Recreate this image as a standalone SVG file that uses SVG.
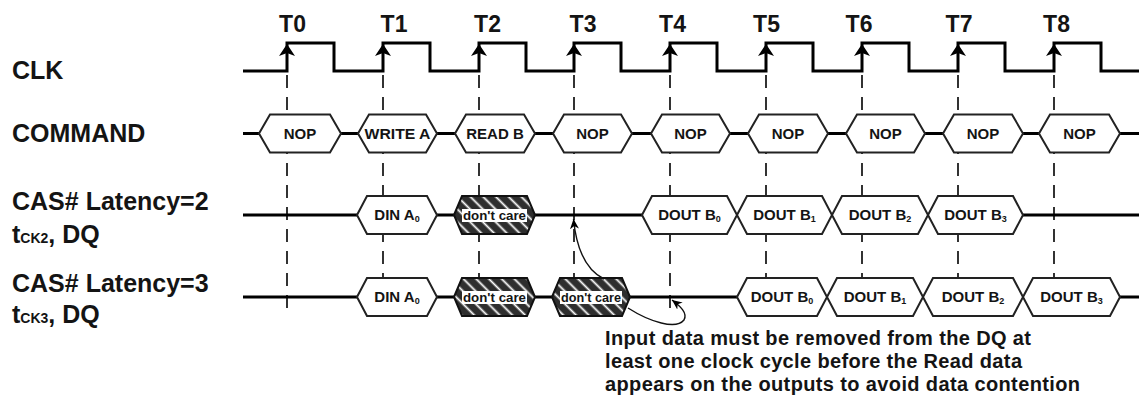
<svg xmlns="http://www.w3.org/2000/svg" width="1139" height="397" viewBox="0 0 1139 397">
<style>
text{font-family:"Liberation Sans",Arial,sans-serif;fill:#141414;font-weight:bold}
.lbl{font-size:25px}
.tl{font-size:23px;text-anchor:middle}
.ht{font-size:15px;text-anchor:middle}
.sub{font-size:9px}
.dct{font-size:13px;text-anchor:middle}
.note{font-size:20px}
.sig{fill:none;stroke:#000;stroke-width:3}
.bus{stroke:#000;stroke-width:3}
.hex{fill:#fff;stroke:#222;stroke-width:2}
.dc{fill:url(#hatch);stroke:#111;stroke-width:2}
.dcbox{fill:#fff}
.grid{stroke:#000;stroke-width:1.6;stroke-dasharray:13 9}
.arr{fill:none;stroke:#111;stroke-width:1.4;marker-end:url(#ah)}
</style>
<defs>
<pattern id="hatch" patternUnits="userSpaceOnUse" width="9" height="9" patternTransform="rotate(-45)">
<rect width="9" height="9" fill="#2e2e2e"/>
<line x1="4.5" y1="0" x2="4.5" y2="9" stroke="#fff" stroke-width="1.8"/>
</pattern>
<path id="clkArrow" d="M0,0 L8,12 L0,9 L-8,12 Z" fill="#000"/>
<marker id="ah" markerUnits="userSpaceOnUse" markerWidth="11" markerHeight="9" refX="10" refY="4.5" orient="auto">
<path d="M0,0 L10,4.5 L0,9 L3,4.5 Z" fill="#000"/>
</marker>
</defs>
<rect width="1139" height="397" fill="#fff"/>

<g id="labels">
<text class="lbl" x="12" y="79">CLK</text>
<text class="lbl" x="12" y="141.5">COMMAND</text>
<text class="lbl" x="12" y="210">CAS# Latency=2</text>
<text class="lbl" x="12" y="243">t<tspan font-size="14">CK2</tspan>, DQ</text>
<text class="lbl" x="12" y="291.5">CAS# Latency=3</text>
<text class="lbl" x="12" y="323">t<tspan font-size="14">CK3</tspan>, DQ</text>
</g>

<g id="clock-ticks">
<text class="tl" x="292.5" y="32">T0</text>
<text class="tl" x="394" y="32">T1</text>
<text class="tl" x="487.5" y="32">T2</text>
<text class="tl" x="583" y="32">T3</text>
<text class="tl" x="672.5" y="32">T4</text>
<text class="tl" x="766.5" y="32">T5</text>
<text class="tl" x="859" y="32">T6</text>
<text class="tl" x="959" y="32">T7</text>
<text class="tl" x="1056.5" y="32">T8</text>
</g>

<g id="gridlines">
<line class="grid" x1="287" y1="75" x2="287" y2="308"/>
<line class="grid" x1="383" y1="75" x2="383" y2="308"/>
<line class="grid" x1="479" y1="75" x2="479" y2="308"/>
<line class="grid" x1="574" y1="75" x2="574" y2="308"/>
<line class="grid" x1="670" y1="75" x2="670" y2="308"/>
<line class="grid" x1="766" y1="75" x2="766" y2="308"/>
<line class="grid" x1="862" y1="75" x2="862" y2="308"/>
<line class="grid" x1="958" y1="75" x2="958" y2="308"/>
<line class="grid" x1="1054" y1="75" x2="1054" y2="308"/>
</g>

<g id="clk">
<path class="sig" d="M243 71 H287 V43 H334 V71 H383 V43 H430 V71 H479 V43 H526 V71 H574 V43 H621 V71 H670 V43 H717 V71 H766 V43 H813 V71 H862 V43 H909 V71 H958 V43 H1005 V71 H1054 V43 H1101 V71 H1139"/>
<use href="#clkArrow" x="287" y="44"/>
<use href="#clkArrow" x="383" y="44"/>
<use href="#clkArrow" x="479" y="44"/>
<use href="#clkArrow" x="574" y="44"/>
<use href="#clkArrow" x="670" y="44"/>
<use href="#clkArrow" x="766" y="44"/>
<use href="#clkArrow" x="862" y="44"/>
<use href="#clkArrow" x="958" y="44"/>
<use href="#clkArrow" x="1054" y="44"/>
</g>

<g id="command-bus">
<path class="bus" d="M243 133.5 H259 M341 133.5 H358 M437 133.5 H455 M535 133.5 H553 M632 133.5 H651 M730 133.5 H748 M828 133.5 H846 M925 133.5 H943 M1023 133.5 H1039 M1120 133.5 H1139"/>
</g>
<g id="cmd0"><polygon class="hex" points="259,133.5 270,114.5 330,114.5 341,133.5 330,152.5 270,152.5"/><text class="ht" x="300" y="139">NOP</text></g>
<g id="cmd1"><polygon class="hex" points="358,133.5 369,114.5 426,114.5 437,133.5 426,152.5 369,152.5"/><text class="ht" x="397.5" y="139" textLength="66" lengthAdjust="spacingAndGlyphs">WRITE A</text></g>
<g id="cmd2"><polygon class="hex" points="455,133.5 466,114.5 524,114.5 535,133.5 524,152.5 466,152.5"/><text class="ht" x="495" y="139">READ B</text></g>
<g id="cmd3"><polygon class="hex" points="553,133.5 564,114.5 621,114.5 632,133.5 621,152.5 564,152.5"/><text class="ht" x="592.5" y="139">NOP</text></g>
<g id="cmd4"><polygon class="hex" points="651,133.5 662,114.5 719,114.5 730,133.5 719,152.5 662,152.5"/><text class="ht" x="690.5" y="139">NOP</text></g>
<g id="cmd5"><polygon class="hex" points="748,133.5 759,114.5 817,114.5 828,133.5 817,152.5 759,152.5"/><text class="ht" x="788" y="139">NOP</text></g>
<g id="cmd6"><polygon class="hex" points="846,133.5 857,114.5 914,114.5 925,133.5 914,152.5 857,152.5"/><text class="ht" x="885.5" y="139">NOP</text></g>
<g id="cmd7"><polygon class="hex" points="943,133.5 954,114.5 1012,114.5 1023,133.5 1012,152.5 954,152.5"/><text class="ht" x="983" y="139">NOP</text></g>
<g id="cmd8"><polygon class="hex" points="1039,133.5 1050,114.5 1109,114.5 1120,133.5 1109,152.5 1050,152.5"/><text class="ht" x="1079.5" y="139">NOP</text></g>

<g id="cl2-bus">
<path class="bus" d="M243 215 H357 M437 215 H454 M535 215 H642 M1023 215 H1139"/>
</g>
<g id="cl2-din"><polygon class="hex" points="357,215 367,196 427,196 437,215 427,234 367,234"/><text class="ht" x="397" y="220">DIN A<tspan class="sub" dy="2">0</tspan></text></g>
<g id="cl2-dc"><polygon class="dc" points="454,215 462,196 527,196 535,215 527,234 462,234"/><rect class="dcbox" x="462" y="209" width="65" height="13"/><text class="dct" x="494.5" y="219.5" textLength="63" lengthAdjust="spacingAndGlyphs">don't care</text></g>
<g id="cl2-b0"><polygon class="hex" points="642,215 652,196 727,196 737,215 727,234 652,234"/><text class="ht" x="689.5" y="220">DOUT B<tspan class="sub" dy="2">0</tspan></text></g>
<g id="cl2-b1"><polygon class="hex" points="737,215 747,196 822,196 832,215 822,234 747,234"/><text class="ht" x="784.5" y="220">DOUT B<tspan class="sub" dy="2">1</tspan></text></g>
<g id="cl2-b2"><polygon class="hex" points="832,215 842,196 918,196 928,215 918,234 842,234"/><text class="ht" x="880" y="220">DOUT B<tspan class="sub" dy="2">2</tspan></text></g>
<g id="cl2-b3"><polygon class="hex" points="928,215 938,196 1013,196 1023,215 1013,234 938,234"/><text class="ht" x="975.5" y="220">DOUT B<tspan class="sub" dy="2">3</tspan></text></g>

<g id="cl3-bus">
<path class="bus" d="M243 297 H357 M437 297 H454 M535 297 H552 M630 297 H737 M1120 297 H1139"/>
</g>
<g id="cl3-din"><polygon class="hex" points="357,297 367,278 427,278 437,297 427,316 367,316"/><text class="ht" x="397" y="302">DIN A<tspan class="sub" dy="2">0</tspan></text></g>
<g id="cl3-dc1"><polygon class="dc" points="454,297 462,278 527,278 535,297 527,316 462,316"/><rect class="dcbox" x="462" y="291" width="65" height="13"/><text class="dct" x="494.5" y="301.5" textLength="63" lengthAdjust="spacingAndGlyphs">don't care</text></g>
<g id="cl3-dc2"><polygon class="dc" points="552,297 560,278 622,278 630,297 622,316 560,316"/><rect class="dcbox" x="560" y="291" width="62" height="13"/><text class="dct" x="591" y="301.5" textLength="60" lengthAdjust="spacingAndGlyphs">don't care</text></g>
<g id="cl3-b0"><polygon class="hex" points="737,297 747,278 817,278 827,297 817,316 747,316"/><text class="ht" x="782" y="302">DOUT B<tspan class="sub" dy="2">0</tspan></text></g>
<g id="cl3-b1"><polygon class="hex" points="827,297 837,278 913,278 923,297 913,316 837,316"/><text class="ht" x="875" y="302">DOUT B<tspan class="sub" dy="2">1</tspan></text></g>
<g id="cl3-b2"><polygon class="hex" points="923,297 933,278 1013,278 1023,297 1013,316 933,316"/><text class="ht" x="973" y="302">DOUT B<tspan class="sub" dy="2">2</tspan></text></g>
<g id="cl3-b3"><polygon class="hex" points="1023,297 1033,278 1110,278 1120,297 1110,316 1033,316"/><text class="ht" x="1071.5" y="302">DOUT B<tspan class="sub" dy="2">3</tspan></text></g>

<g id="connectors">
<path class="arr" d="M604 279 Q578 266 573.5 219"/>
<path class="arr" d="M628 308 C650 322 676 330 684 320 C688 313 680 306 672 300"/>
</g>

<g id="note">
<text class="note" x="605" y="345" textLength="426" lengthAdjust="spacing">Input data must be removed from the DQ at</text>
<text class="note" x="605" y="368" textLength="417" lengthAdjust="spacing">least one clock cycle before the Read data</text>
<text class="note" x="605" y="391" textLength="475" lengthAdjust="spacing">appears on the outputs to avoid data contention</text>
</g>
</svg>
